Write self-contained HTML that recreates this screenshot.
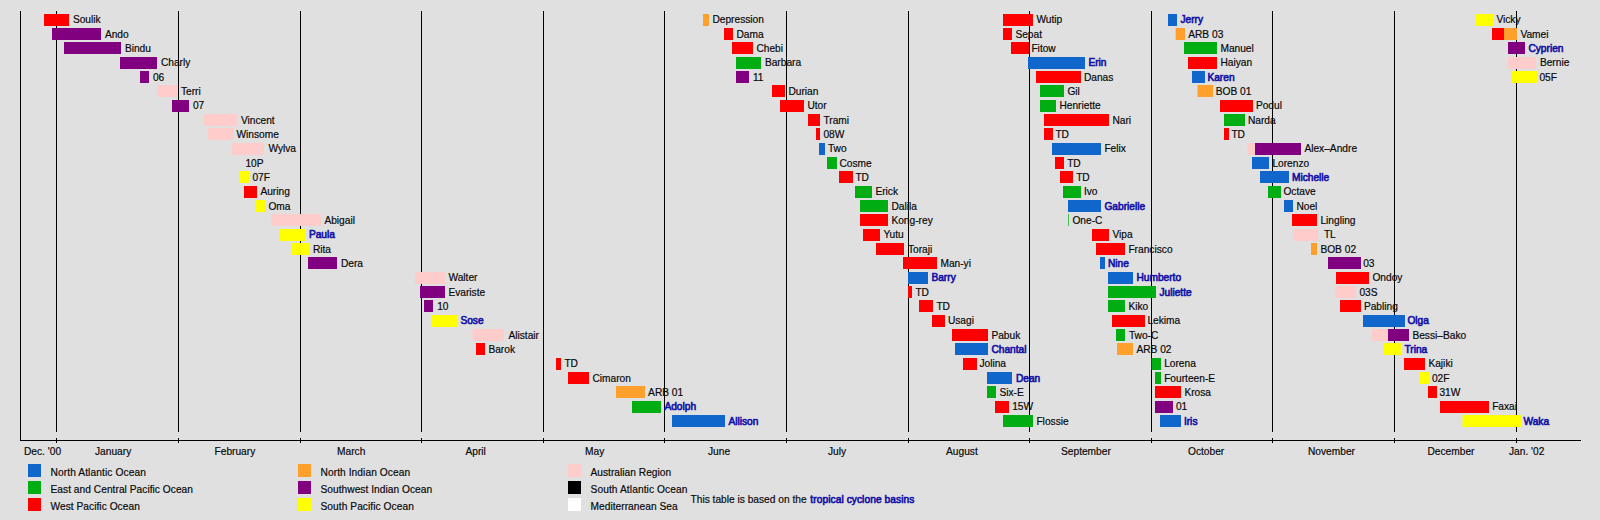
<!DOCTYPE html>
<html><head><meta charset="utf-8"><title>2001 tropical cyclones timeline</title>
<style>html,body{margin:0;padding:0;background:#E0E0E0;}svg{display:block}text{font-family:"Liberation Sans",sans-serif;font-size:10.2px;fill:#080808;stroke:#080808;stroke-width:0.18px}.l{fill:#1010A6;stroke:#1010A6;stroke-width:0.6px}</style></head>
<body>
<svg width="1600" height="520" viewBox="0 0 1600 520">
<rect width="1600" height="520" fill="#E0E0E0"/>
<rect x="56" y="11" width="1" height="421" fill="#000"/><rect x="56" y="438" width="1" height="5" fill="#000"/>
<rect x="178" y="11" width="1" height="421" fill="#000"/><rect x="178" y="438" width="1" height="5" fill="#000"/>
<rect x="300" y="11" width="1" height="421" fill="#000"/><rect x="300" y="438" width="1" height="5" fill="#000"/>
<rect x="421" y="11" width="1" height="421" fill="#000"/><rect x="421" y="438" width="1" height="5" fill="#000"/>
<rect x="543" y="11" width="1" height="421" fill="#000"/><rect x="543" y="438" width="1" height="5" fill="#000"/>
<rect x="664" y="11" width="1" height="421" fill="#000"/><rect x="664" y="438" width="1" height="5" fill="#000"/>
<rect x="786" y="11" width="1" height="421" fill="#000"/><rect x="786" y="438" width="1" height="5" fill="#000"/>
<rect x="908" y="11" width="1" height="421" fill="#000"/><rect x="908" y="438" width="1" height="5" fill="#000"/>
<rect x="1029" y="11" width="1" height="421" fill="#000"/><rect x="1029" y="438" width="1" height="5" fill="#000"/>
<rect x="1151" y="11" width="1" height="421" fill="#000"/><rect x="1151" y="438" width="1" height="5" fill="#000"/>
<rect x="1272" y="11" width="1" height="421" fill="#000"/><rect x="1272" y="438" width="1" height="5" fill="#000"/>
<rect x="1394" y="11" width="1" height="421" fill="#000"/><rect x="1394" y="438" width="1" height="5" fill="#000"/>
<rect x="1516" y="11" width="1" height="421" fill="#000"/><rect x="1516" y="438" width="1" height="5" fill="#000"/>
<rect x="20" y="11" width="1" height="430" fill="#000"/>
<rect x="20" y="440" width="1561" height="1" fill="#000"/>
<rect x="44.00" y="14.00" width="25.00" height="12.00" fill="#FF0000"/><text x="72.90" y="23.00">Soulik</text>
<rect x="52.00" y="28.00" width="49.00" height="12.00" fill="#800080"/><text x="104.90" y="38.00">Ando</text>
<rect x="64.00" y="42.00" width="57.00" height="12.00" fill="#800080"/><text x="124.90" y="52.00">Bindu</text>
<rect x="120.00" y="57.00" width="37.00" height="12.00" fill="#800080"/><text x="160.90" y="66.00">Charly</text>
<rect x="140.00" y="71.00" width="9.00" height="12.00" fill="#800080"/><text x="152.90" y="81.00">06</text>
<rect x="157.00" y="85.00" width="20.00" height="12.00" fill="#FFCCCC"/><text x="180.90" y="95.00">Terri</text>
<rect x="172.00" y="100.00" width="17.00" height="12.00" fill="#800080"/><text x="192.90" y="109.00">07</text>
<rect x="204.00" y="114.00" width="33.00" height="12.00" fill="#FFCCCC"/><text x="240.90" y="124.00">Vincent</text>
<rect x="208.00" y="128.00" width="25.00" height="12.00" fill="#FFCCCC"/><text x="236.40" y="138.00">Winsome</text>
<rect x="232.00" y="143.00" width="32.00" height="12.00" fill="#FFCCCC"/><text x="268.40" y="152.00">Wylva</text>
<text x="245.40" y="167.00">10P</text>
<rect x="240.00" y="171.00" width="9.50" height="12.00" fill="#FFFF00"/><text x="252.40" y="181.00">07F</text>
<rect x="244.00" y="186.00" width="13.00" height="12.00" fill="#FF0000"/><text x="260.40" y="195.00">Auring</text>
<rect x="256.00" y="200.00" width="9.50" height="12.00" fill="#FFFF00"/><text x="268.40" y="210.00">Oma</text>
<rect x="271.00" y="214.00" width="50.00" height="12.00" fill="#FFCCCC"/><text x="324.40" y="224.00">Abigail</text>
<rect x="280.00" y="229.00" width="25.50" height="12.00" fill="#FFFF00"/><text x="308.90" y="238.00" class="l">Paula</text>
<rect x="292.00" y="243.00" width="17.00" height="12.00" fill="#FFFF00"/><text x="312.90" y="253.00">Rita</text>
<rect x="308.00" y="257.00" width="29.00" height="12.00" fill="#800080"/><text x="340.90" y="267.00">Dera</text>
<rect x="415.00" y="272.00" width="30.00" height="12.00" fill="#FFCCCC"/><text x="448.40" y="281.00">Walter</text>
<rect x="420.00" y="286.00" width="25.00" height="12.00" fill="#800080"/><text x="448.40" y="296.00">Evariste</text>
<rect x="424.00" y="300.00" width="9.00" height="12.00" fill="#800080"/><text x="437.15" y="310.00">10</text>
<rect x="432.00" y="315.00" width="26.00" height="12.00" fill="#FFFF00"/><text x="460.40" y="324.00" class="l">Sose</text>
<rect x="472.50" y="329.00" width="31.50" height="12.00" fill="#FFCCCC"/><text x="508.40" y="339.00">Alistair</text>
<rect x="476.00" y="343.00" width="9.00" height="12.00" fill="#FF0000"/><text x="488.40" y="353.00">Barok</text>
<rect x="556.00" y="358.00" width="5.00" height="12.00" fill="#FF0000"/><text x="564.40" y="367.00">TD</text>
<rect x="568.00" y="372.00" width="21.00" height="12.00" fill="#FF0000"/><text x="592.40" y="382.00">Cimaron</text>
<rect x="616.00" y="386.00" width="29.00" height="12.00" fill="#FFA02C"/><text x="648.10" y="396.00">ARB 01</text>
<rect x="632.00" y="401.00" width="29.00" height="12.00" fill="#00AE14"/><text x="664.40" y="410.00" class="l">Adolph</text>
<rect x="672.00" y="415.00" width="53.00" height="12.00" fill="#1066CA"/><text x="728.40" y="425.00" class="l">Allison</text>
<rect x="703.00" y="14.00" width="6.00" height="12.00" fill="#FFA02C"/><text x="712.40" y="23.00">Depression</text>
<rect x="724.00" y="28.00" width="9.00" height="12.00" fill="#FF0000"/><text x="736.40" y="38.00">Dama</text>
<rect x="732.00" y="42.00" width="21.00" height="12.00" fill="#FF0000"/><text x="756.40" y="52.00">Chebi</text>
<rect x="736.00" y="57.00" width="25.00" height="12.00" fill="#00AE14"/><text x="764.90" y="66.00">Barbara</text>
<rect x="736.00" y="71.00" width="13.00" height="12.00" fill="#800080"/><text x="752.90" y="81.00">11</text>
<rect x="772.00" y="85.00" width="13.00" height="12.00" fill="#FF0000"/><text x="788.40" y="95.00">Durian</text>
<rect x="780.00" y="100.00" width="24.00" height="12.00" fill="#FF0000"/><text x="807.40" y="109.00">Utor</text>
<rect x="808.00" y="114.00" width="12.00" height="12.00" fill="#FF0000"/><text x="823.40" y="124.00">Trami</text>
<rect x="816.00" y="128.00" width="4.00" height="12.00" fill="#FF0000"/><text x="823.40" y="138.00">08W</text>
<rect x="819.00" y="143.00" width="6.00" height="12.00" fill="#1066CA"/><text x="827.90" y="152.00">Two</text>
<rect x="827.00" y="157.00" width="10.00" height="12.00" fill="#00AE14"/><text x="839.40" y="167.00">Cosme</text>
<rect x="839.00" y="171.00" width="14.00" height="12.00" fill="#FF0000"/><text x="855.40" y="181.00">TD</text>
<rect x="855.00" y="186.00" width="17.00" height="12.00" fill="#00AE14"/><text x="875.40" y="195.00">Erick</text>
<rect x="860.00" y="200.00" width="28.00" height="12.00" fill="#00AE14"/><text x="891.40" y="210.00">Dalila</text>
<rect x="860.00" y="214.00" width="28.00" height="12.00" fill="#FF0000"/><text x="891.40" y="224.00">Kong-rey</text>
<rect x="863.00" y="229.00" width="17.00" height="12.00" fill="#FF0000"/><text x="883.40" y="238.00">Yutu</text>
<rect x="876.00" y="243.00" width="28.00" height="12.00" fill="#FF0000"/><text x="907.90" y="253.00">Toraji</text>
<rect x="903.00" y="257.00" width="34.00" height="12.00" fill="#FF0000"/><text x="940.40" y="267.00">Man-yi</text>
<rect x="908.00" y="272.00" width="20.00" height="12.00" fill="#1066CA"/><text x="931.40" y="281.00" class="l">Barry</text>
<rect x="908.00" y="286.00" width="4.00" height="12.00" fill="#FF0000"/><text x="915.40" y="296.00">TD</text>
<rect x="919.00" y="300.00" width="14.00" height="12.00" fill="#FF0000"/><text x="936.40" y="310.00">TD</text>
<rect x="932.00" y="315.00" width="13.00" height="12.00" fill="#FF0000"/><text x="947.90" y="324.00">Usagi</text>
<rect x="952.00" y="329.00" width="36.00" height="12.00" fill="#FF0000"/><text x="991.40" y="339.00">Pabuk</text>
<rect x="955.00" y="343.00" width="33.00" height="12.00" fill="#1066CA"/><text x="991.40" y="353.00" class="l">Chantal</text>
<rect x="963.00" y="358.00" width="14.00" height="12.00" fill="#FF0000"/><text x="979.40" y="367.00">Jolina</text>
<rect x="987.00" y="372.00" width="25.00" height="12.00" fill="#1066CA"/><text x="1015.90" y="382.00" class="l">Dean</text>
<rect x="987.00" y="386.00" width="9.00" height="12.00" fill="#00AE14"/><text x="999.40" y="396.00">Six-E</text>
<rect x="995.00" y="401.00" width="14.00" height="12.00" fill="#FF0000"/><text x="1012.15" y="410.00">15W</text>
<rect x="1003.00" y="415.00" width="30.00" height="12.00" fill="#00AE14"/><text x="1036.40" y="425.00">Flossie</text>
<rect x="1003.00" y="14.00" width="30.00" height="12.00" fill="#FF0000"/><text x="1036.40" y="23.00">Wutip</text>
<rect x="1003.00" y="28.00" width="9.00" height="12.00" fill="#FF0000"/><text x="1015.40" y="38.00">Sepat</text>
<rect x="1011.00" y="42.00" width="18.00" height="12.00" fill="#FF0000"/><text x="1031.40" y="52.00">Fitow</text>
<rect x="1028.00" y="57.00" width="57.00" height="12.00" fill="#1066CA"/><text x="1088.40" y="66.00" class="l">Erin</text>
<rect x="1036.00" y="71.00" width="45.00" height="12.00" fill="#FF0000"/><text x="1083.90" y="81.00">Danas</text>
<rect x="1040.00" y="85.00" width="24.00" height="12.00" fill="#00AE14"/><text x="1067.40" y="95.00">Gil</text>
<rect x="1040.00" y="100.00" width="16.00" height="12.00" fill="#00AE14"/><text x="1059.40" y="109.00">Henriette</text>
<rect x="1044.00" y="114.00" width="65.00" height="12.00" fill="#FF0000"/><text x="1112.40" y="124.00">Nari</text>
<rect x="1044.00" y="128.00" width="9.00" height="12.00" fill="#FF0000"/><text x="1055.40" y="138.00">TD</text>
<rect x="1052.00" y="143.00" width="49.00" height="12.00" fill="#1066CA"/><text x="1104.40" y="152.00">Felix</text>
<rect x="1055.00" y="157.00" width="9.00" height="12.00" fill="#FF0000"/><text x="1067.15" y="167.00">TD</text>
<rect x="1060.00" y="171.00" width="13.00" height="12.00" fill="#FF0000"/><text x="1076.15" y="181.00">TD</text>
<rect x="1063.00" y="186.00" width="18.00" height="12.00" fill="#00AE14"/><text x="1083.90" y="195.00">Ivo</text>
<rect x="1068.00" y="200.00" width="33.00" height="12.00" fill="#1066CA"/><text x="1104.40" y="210.00" class="l">Gabrielle</text>
<rect x="1068.00" y="214.00" width="0.70" height="12.00" fill="#00AE14"/><text x="1072.40" y="224.00">One-C</text>
<rect x="1092.00" y="229.00" width="17.00" height="12.00" fill="#FF0000"/><text x="1112.40" y="238.00">Vipa</text>
<rect x="1096.00" y="243.00" width="29.00" height="12.00" fill="#FF0000"/><text x="1128.40" y="253.00">Francisco</text>
<rect x="1100.00" y="257.00" width="5.00" height="12.00" fill="#1066CA"/><text x="1107.90" y="267.00" class="l">Nine</text>
<rect x="1108.00" y="272.00" width="25.00" height="12.00" fill="#1066CA"/><text x="1136.40" y="281.00" class="l">Humberto</text>
<rect x="1108.00" y="286.00" width="48.00" height="12.00" fill="#00AE14"/><text x="1159.40" y="296.00" class="l">Juliette</text>
<rect x="1108.00" y="300.00" width="17.00" height="12.00" fill="#00AE14"/><text x="1128.40" y="310.00">Kiko</text>
<rect x="1112.00" y="315.00" width="33.00" height="12.00" fill="#FF0000"/><text x="1147.40" y="324.00">Lekima</text>
<rect x="1116.00" y="329.00" width="9.00" height="12.00" fill="#00AE14"/><text x="1128.90" y="339.00">Two-C</text>
<rect x="1117.00" y="343.00" width="16.00" height="12.00" fill="#FFA02C"/><text x="1136.40" y="353.00">ARB 02</text>
<rect x="1151.50" y="358.00" width="9.50" height="12.00" fill="#00AE14"/><text x="1164.15" y="367.00">Lorena</text>
<rect x="1155.00" y="372.00" width="6.00" height="12.00" fill="#00AE14"/><text x="1164.15" y="382.00">Fourteen-E</text>
<rect x="1155.00" y="386.00" width="26.00" height="12.00" fill="#FF0000"/><text x="1184.40" y="396.00">Krosa</text>
<rect x="1155.00" y="401.00" width="18.00" height="12.00" fill="#800080"/><text x="1175.90" y="410.00">01</text>
<rect x="1160.00" y="415.00" width="21.00" height="12.00" fill="#1066CA"/><text x="1183.90" y="425.00" class="l">Iris</text>
<rect x="1168.00" y="14.00" width="9.00" height="12.00" fill="#1066CA"/><text x="1180.40" y="23.00" class="l">Jerry</text>
<rect x="1175.70" y="28.00" width="9.30" height="12.00" fill="#FFA02C"/><text x="1188.20" y="38.00">ARB 03</text>
<rect x="1184.00" y="42.00" width="33.00" height="12.00" fill="#00AE14"/><text x="1220.40" y="52.00">Manuel</text>
<rect x="1188.00" y="57.00" width="29.00" height="12.00" fill="#FF0000"/><text x="1220.40" y="66.00">Haiyan</text>
<rect x="1192.00" y="71.00" width="13.00" height="12.00" fill="#1066CA"/><text x="1207.40" y="81.00" class="l">Karen</text>
<rect x="1197.50" y="85.00" width="15.50" height="12.00" fill="#FFA02C"/><text x="1215.70" y="95.00">BOB 01</text>
<rect x="1220.00" y="100.00" width="33.00" height="12.00" fill="#FF0000"/><text x="1255.90" y="109.00">Podul</text>
<rect x="1224.00" y="114.00" width="21.00" height="12.00" fill="#00AE14"/><text x="1247.90" y="124.00">Narda</text>
<rect x="1224.00" y="128.00" width="5.00" height="12.00" fill="#FF0000"/><text x="1231.40" y="138.00">TD</text>
<rect x="1247.50" y="143.00" width="7.50" height="12.00" fill="#FFCCCC"/><rect x="1255.00" y="143.00" width="46.00" height="12.00" fill="#800080"/><text x="1304.40" y="152.00">Alex–Andre</text>
<rect x="1252.00" y="157.00" width="17.00" height="12.00" fill="#1066CA"/><text x="1272.40" y="167.00">Lorenzo</text>
<rect x="1260.00" y="171.00" width="29.00" height="12.00" fill="#1066CA"/><text x="1291.90" y="181.00" class="l">Michelle</text>
<rect x="1268.00" y="186.00" width="13.00" height="12.00" fill="#00AE14"/><text x="1283.40" y="195.00">Octave</text>
<rect x="1284.00" y="200.00" width="9.00" height="12.00" fill="#1066CA"/><text x="1296.40" y="210.00">Noel</text>
<rect x="1292.00" y="214.00" width="25.00" height="12.00" fill="#FF0000"/><text x="1320.40" y="224.00">Lingling</text>
<rect x="1293.00" y="229.00" width="25.00" height="12.00" fill="#FFCCCC"/><text x="1323.90" y="238.00">TL</text>
<rect x="1311.00" y="243.00" width="6.00" height="12.00" fill="#FFA02C"/><text x="1320.40" y="253.00">BOB 02</text>
<rect x="1328.00" y="257.00" width="33.00" height="12.00" fill="#800080"/><text x="1363.15" y="267.00">03</text>
<rect x="1336.00" y="272.00" width="33.00" height="12.00" fill="#FF0000"/><text x="1372.40" y="281.00">Ondoy</text>
<rect x="1335.00" y="286.00" width="21.00" height="12.00" fill="#FFCCCC"/><text x="1359.40" y="296.00">03S</text>
<rect x="1340.00" y="300.00" width="21.00" height="12.00" fill="#FF0000"/><text x="1363.90" y="310.00">Pabling</text>
<rect x="1363.00" y="315.00" width="42.00" height="12.00" fill="#1066CA"/><text x="1407.40" y="324.00" class="l">Olga</text>
<rect x="1372.00" y="329.00" width="16.00" height="12.00" fill="#FFCCCC"/><rect x="1388.00" y="329.00" width="21.00" height="12.00" fill="#800080"/><text x="1412.40" y="339.00">Bessi–Bako</text>
<rect x="1384.00" y="343.00" width="18.00" height="12.00" fill="#FFFF00"/><text x="1404.40" y="353.00" class="l">Trina</text>
<rect x="1404.00" y="358.00" width="21.00" height="12.00" fill="#FF0000"/><text x="1428.40" y="367.00">Kajiki</text>
<rect x="1420.00" y="372.00" width="9.50" height="12.00" fill="#FFFF00"/><text x="1431.90" y="382.00">02F</text>
<rect x="1428.00" y="386.00" width="9.00" height="12.00" fill="#FF0000"/><text x="1439.40" y="396.00">31W</text>
<rect x="1440.00" y="401.00" width="49.00" height="12.00" fill="#FF0000"/><text x="1492.15" y="410.00">Faxai</text>
<rect x="1462.50" y="415.00" width="58.50" height="12.00" fill="#FFFF00"/><text x="1523.40" y="425.00" class="l">Waka</text>
<rect x="1476.00" y="14.00" width="17.00" height="12.00" fill="#FFFF00"/><text x="1496.40" y="23.00">Vicky</text>
<rect x="1492.00" y="28.00" width="12.00" height="12.00" fill="#FF0000"/><rect x="1504.00" y="28.00" width="13.00" height="12.00" fill="#FFA02C"/><text x="1520.40" y="38.00">Vamei</text>
<rect x="1508.00" y="42.00" width="17.00" height="12.00" fill="#800080"/><text x="1528.40" y="52.00" class="l">Cyprien</text>
<rect x="1508.00" y="57.00" width="28.00" height="12.00" fill="#FFCCCC"/><text x="1539.90" y="66.00">Bernie</text>
<rect x="1512.00" y="71.00" width="25.00" height="12.00" fill="#FFFF00"/><text x="1539.40" y="81.00">05F</text>
<text x="24.00" y="455">Dec. &#39;00</text>
<text x="95.00" y="455">January</text>
<text x="214.50" y="455">February</text>
<text x="337.00" y="455">March</text>
<text x="465.50" y="455">April</text>
<text x="585.00" y="455">May</text>
<text x="708.00" y="455">June</text>
<text x="828.00" y="455">July</text>
<text x="946.00" y="455">August</text>
<text x="1061.00" y="455">September</text>
<text x="1188.00" y="455">October</text>
<text x="1308.00" y="455">November</text>
<text x="1427.50" y="455">December</text>
<text x="1509.00" y="455">Jan. &#39;02</text>
<rect x="28.00" y="464.00" width="13" height="13" fill="#1066CA"/><text x="50.50" y="476.00" style="letter-spacing:0.100px">North Atlantic Ocean</text>
<rect x="28.00" y="481.00" width="13" height="13" fill="#00AE14"/><text x="50.50" y="493.00" style="letter-spacing:0.031px">East and Central Pacific Ocean</text>
<rect x="28.00" y="498.00" width="13" height="13" fill="#FF0000"/><text x="50.50" y="510.00" style="letter-spacing:0.035px">West Pacific Ocean</text>
<rect x="298.00" y="464.00" width="13" height="13" fill="#FFA02C"/><text x="320.50" y="476.00" style="letter-spacing:0.074px">North Indian Ocean</text>
<rect x="298.00" y="481.00" width="13" height="13" fill="#800080"/><text x="320.50" y="493.00" style="letter-spacing:0.029px">Southwest Indian Ocean</text>
<rect x="298.00" y="498.00" width="13" height="13" fill="#FFFF00"/><text x="320.50" y="510.00" style="letter-spacing:0.056px">South Pacific Ocean</text>
<rect x="568.00" y="464.00" width="13" height="13" fill="#FFCCCC"/><text x="590.50" y="476.00" style="letter-spacing:0.013px">Australian Region</text>
<rect x="568.00" y="481.00" width="13" height="13" fill="#000000"/><text x="590.50" y="493.00" style="letter-spacing:0.095px">South Atlantic Ocean</text>
<rect x="568.00" y="498.00" width="13" height="13" fill="#FFFFFF"/><text x="590.50" y="510.00" style="letter-spacing:0.031px">Mediterranean Sea</text>
<text x="690.5" y="502.75">This table is based on the <tspan class="l" dx="0.9" style="letter-spacing:0.07px">tropical cyclone basins</tspan></text>
</svg>
</body></html>
